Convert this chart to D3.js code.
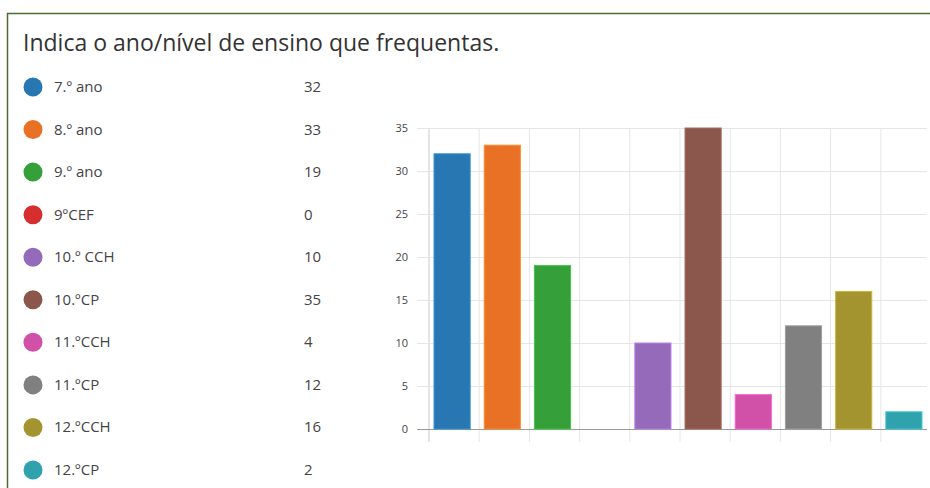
<!DOCTYPE html>
<html>
<head>
<meta charset="utf-8">
<script src="https://cdn.jsdelivr.net/npm/d3@7"></script>
<style>
  body { margin: 0; background: #fff; font-family: "Open Sans", "Noto Sans", sans-serif; }
</style>
</head>
<body>
<div id="viz"></div>
<script>
const width = 930;
const height = 488;

// chart values
const categories = ['7.º ano', '8.º ano', '9.º ano', '9ºCEF', '10.º CCH', '10.ºCP', '11.ºCCH', '11.ºCP', '12.ºCCH', '12.ºCP'];
const counts = [32, 33, 19, 0, 10, 35, 4, 12, 16, 2];
const colors = ['#2877b2', '#e97125', '#35a039', '#d62d2e', '#966abb', '#8b564c', '#d150a8', '#808080', '#a39430', '#2fa2ad'];
const yTicks = [0, 5, 10, 15, 20, 25, 30, 35];
const title = 'Indica o ano/nível de ensino que frequentas.';

const plot = {left: 429, right: 927, top: 128, bottom: 429};

const svg = d3.select('#viz')
  .append('svg')
    .attr('width', width)
    .attr('height', height);

// frame
svg.append('rect')
    .attr('x', 7.5)
    .attr('y', 13.5)
    .attr('width', width + 20)
    .attr('height', height + 20)
    .attr('fill', 'none')
    .attr('stroke', '#4d6b33')
    .attr('stroke-width', 1.5);

svg.append('text')
    .attr('x', 23)
    .attr('y', 51)
    .attr('fill', '#333')
    .style('font-size', '23px')
    .text(title);

// legend
const legendY = d3.scalePoint()
  .domain(categories)
  .range([87, 470]);

const legend = svg.append('g')
  .selectAll('g')
  .data(categories)
  .join('g')
    .attr('transform', d => `translate(0,${legendY(d)})`);
legend.append('circle')
    .attr('cx', 33)
    .attr('cy', 0)
    .attr('r', 9.5)
    .attr('fill', (d, i) => colors[i]);
legend.append('text')
    .attr('x', 54)
    .attr('y', 5)
    .attr('fill', '#444')
    .style('font-size', '15px')
    .text(d => d);
legend.append('text')
    .attr('x', 304)
    .attr('y', 5)
    .attr('fill', '#444')
    .style('font-size', '15px')
    .text((d, i) => counts[i]);

// scales
const scaleX = d3.scaleBand()
  .domain(categories)
  .range([plot.left, plot.right])
  .paddingInner(0.28)
  .paddingOuter(0.1);

const scaleY = d3.scaleLinear()
  .domain([0, 35])
  .range([plot.bottom, plot.top]);

// grid lines (band edges)
const bandEdges = categories.map(c => scaleX(c) - scaleX.step() * 0.1);
svg.append('g')
  .selectAll('line')
  .data(bandEdges)
  .join('line')
    .attr('x1', d => d)
    .attr('x2', d => d)
    .attr('y1', plot.top)
    .attr('y2', plot.bottom + 13)
    .attr('stroke', (d, i) => i === 0 ? '#c8c8c8' : '#e6e6e6')
    .attr('stroke-width', 1);

const axisLeft = d3.axisLeft(scaleY)
  .tickValues(yTicks)
  .tickSize(plot.right - plot.left + 12)
  .tickPadding(9);
const yAxis = svg.append('g')
    .attr('transform', `translate(${plot.right},0)`)
    .call(axisLeft);
yAxis.select('.domain').remove();
yAxis.selectAll('.tick line')
    .attr('stroke', d => d === 0 ? '#9a9a9a' : '#e6e6e6');
yAxis.selectAll('.tick text')
    .attr('fill', '#444')
    .style('font-family', '"Open Sans", sans-serif')
    .style('font-size', '11px');

// bars
svg.append('g')
  .selectAll('rect')
  .data(counts)
  .join('rect')
    .attr('x', (d, i) => scaleX(categories[i]))
    .attr('y', d => scaleY(d))
    .attr('width', scaleX.bandwidth())
    .attr('height', d => scaleY(0) - scaleY(d))
    .attr('fill', (d, i) => colors[i])
    .attr('stroke', (d, i) => d3.color(colors[i]).brighter(0.6))
    .attr('stroke-width', d => d > 0 ? 1 : 0);
</script>
</body>
</html>
